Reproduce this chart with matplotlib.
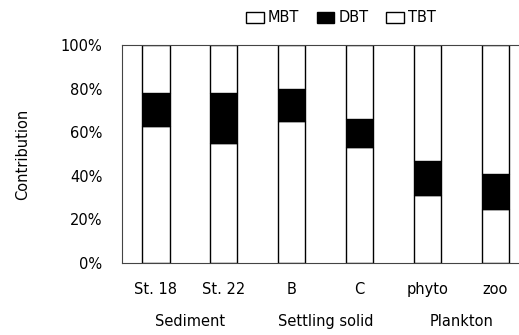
import numpy as np
import matplotlib.pyplot as plt
from matplotlib.patches import Patch

samples = ["St. 18", "St. 22", "B", "C", "phyto", "zoo"]
groups = ["Sediment", "Settling solid", "Plankton"]
mbt = np.array([63, 55, 65, 53, 31, 25])
dbt = np.array([15, 23, 15, 13, 16, 16])
tbt = 100 - mbt - dbt

fig = plt.figure(figsize=(5.19, 3.35), dpi=100)
ax = fig.add_axes([122/519, 1 - 263/335, 1 - 122/519, 218/335])

x = np.arange(len(samples))
w = 0.4
ax.bar(x, mbt, w, color="white", edgecolor="black", linewidth=1.0, label="MBT")
ax.bar(x, dbt, w, bottom=mbt, color="black", edgecolor="black", linewidth=1.0, label="DBT")
ax.bar(x, tbt, w, bottom=mbt + dbt, color="white", edgecolor="black", linewidth=1.0, label="TBT")

ax.set_xlim(-0.5, 5.35)
ax.set_ylim(0, 100)
ax.set_yticks([0, 20, 40, 60, 80, 100])
ax.set_yticklabels(["0%", "20%", "40%", "60%", "80%", "100%"])
ax.set_xticks(x)
ax.set_xticklabels(samples)
ax.tick_params(length=0, labelsize=10.5, pad=14)
ax.tick_params(axis="x", pad=14)
for s in ["top", "left", "bottom"]:
    ax.spines[s].set_linewidth(0.8)
    ax.spines[s].set_color("#444444")
    ax.spines[s].set_linestyle((0, (4, 1)))
ax.spines["right"].set_visible(False)

ax.set_ylabel("Contribution", fontsize=10.5, labelpad=22)

for i, g in enumerate(groups):
    ax.text(2 * i + 0.5, -0.27, g, transform=ax.get_xaxis_transform(),
            ha="center", va="center", fontsize=10.5)

handles = [Patch(facecolor="white", edgecolor="black", label="MBT"),
           Patch(facecolor="black", edgecolor="black", label="DBT"),
           Patch(facecolor="white", edgecolor="black", label="TBT")]
fig.legend(handles=handles, loc="center", bbox_to_anchor=(341/519, 1 - 18/335),
           ncol=3, frameon=False, fontsize=10.5, handlelength=1.2, handleheight=0.8,
           handletextpad=0.3, columnspacing=1.2)

fig.savefig("out.png", dpi=100)
